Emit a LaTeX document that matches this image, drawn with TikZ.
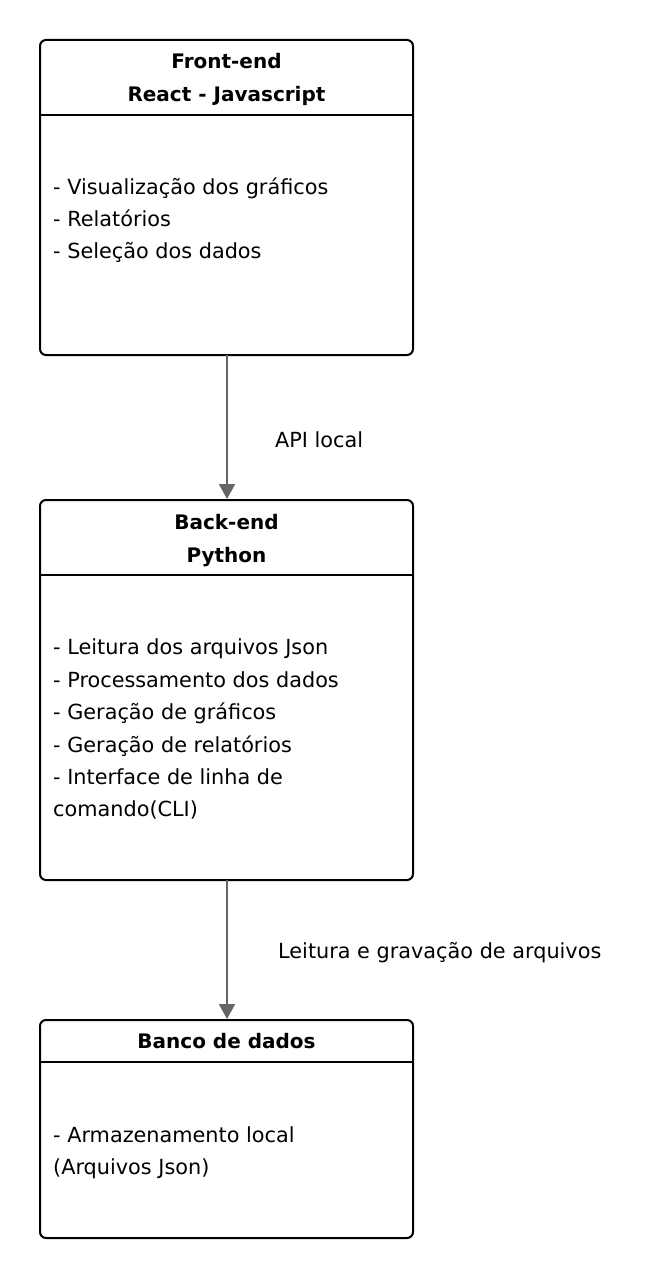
\documentclass[tikz,border=0pt]{standalone}
\usepackage{fontspec}
\setmainfont{DejaVu Sans}
\usetikzlibrary{arrows.meta}
\definecolor{arrowgray}{HTML}{666666}
\tikzset{
  box/.style={draw=black, line width=2pt, rounded corners=6pt},
  sep/.style={draw=black, line width=1.6pt},
  title/.style={font=\fontsize{20}{24}\selectfont\bfseries, inner sep=0pt, anchor=base},
  body/.style={font=\fontsize{20.8}{24}\selectfont, inner sep=0pt, anchor=base west},
  lbl/.style={font=\fontsize{20.8}{24}\selectfont, inner sep=0pt, anchor=base west},
  conn/.style={draw=arrowgray, line width=2pt, -{Triangle[length=15pt,width=16pt]}}
}
\begin{document}
\begin{tikzpicture}[x=1pt,y=-1pt]
\useasboundingbox (0,0) rectangle (660,1279);
% Box 1
\draw[box] (40,40) rectangle (413,355);
\draw[sep] (40,115) -- (413,115);
\node[title] (t1a) at (226.5,69) {Front-end};
\node[title] (t1b) at (226.5,102) {React - Javascript};
\node[body] (b1a) at (53,194) {- Visualização dos gráficos};
\node[body] (b1b) at (53,226) {- Relatórios};
\node[body] (b1c) at (53,258) {- Seleção dos dados};
% Box 2
\draw[box] (40,500) rectangle (413,880);
\draw[sep] (40,575) -- (413,575);
\node[title] (t2a) at (226.5,529) {Back-end};
\node[title] (t2b) at (226.5,562) {Python};
\node[body] (b2a) at (53,654) {- Leitura dos arquivos Json};
\node[body] (b2b) at (53,687) {- Processamento dos dados};
\node[body] (b2c) at (53,719) {- Geração de gráficos};
\node[body] (b2d) at (53,752) {- Geração de relatórios};
\node[body] (b2e) at (53,784) {- Interface de linha de};
\node[body] (b2f) at (53,816) {comando(CLI)};
% Box 3
\draw[box] (40,1020) rectangle (413,1238);
\draw[sep] (40,1062) -- (413,1062);
\node[title] (t3a) at (226.5,1048) {Banco de dados};
\node[body] (b3a) at (53,1142) {- Armazenamento local};
\node[body] (b3b) at (53,1174) {(Arquivos Json)};
% Connectors
\coordinate (c1s) at (227,355);
\coordinate (c1e) at (227,499);
\coordinate (c2s) at (227,880);
\coordinate (c2e) at (227,1019);
\draw[conn] (c1s) -- (c1e);
\draw[conn] (c2s) -- (c2e);
\node[lbl] (l1) at (275,447) {API local};
\node[lbl] (l2) at (278,958) {Leitura e gravação de arquivos};
\end{tikzpicture}
\end{document}
